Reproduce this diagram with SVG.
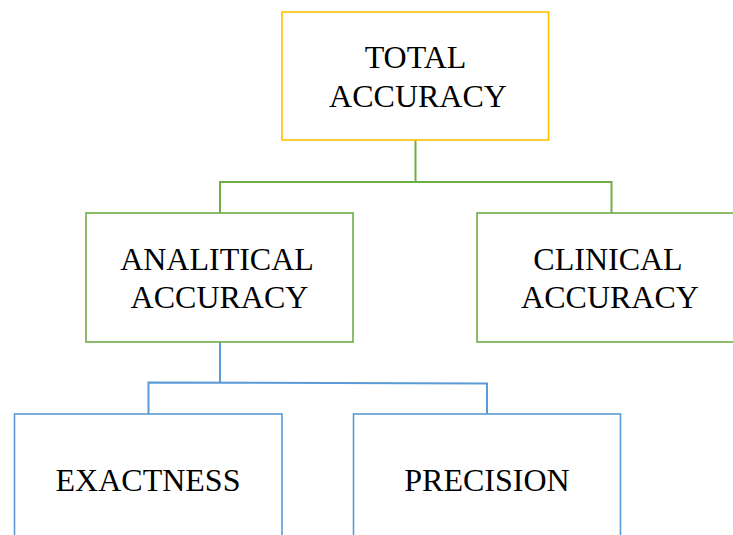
<svg xmlns="http://www.w3.org/2000/svg" width="733" height="535" viewBox="0 0 733 535">
  <style>
    .box { fill: #ffffff; stroke-width: 1.6; }
    .gold { stroke: #FFC000; }
    .green { stroke: #70AD47; }
    .blue { stroke: #5B9BD5; }
    .link { fill: none; stroke-width: 2; }
    text { font-family: "Liberation Serif", "Times New Roman", serif; font-size: 32px; fill: #000000; text-anchor: middle; }
  </style>
  <rect width="733" height="535" fill="#ffffff"/>

  <g id="connectors">
    <path class="link green" d="M415.5 140 V182 M220 213 V182 H611.5 V213"/>
    <path class="link blue" d="M220 342 V382.5 M148.5 414 V382.5 L487 383.5 V414"/>
  </g>

  <g id="total-accuracy">
    <rect class="box gold" x="282" y="12" width="266.5" height="128"/>
    <text x="415.5" y="68">TOTAL</text>
    <text x="418" y="107">ACCURACY</text>
  </g>

  <g id="analitical-accuracy">
    <rect class="box green" x="86" y="213" width="267" height="129"/>
    <text x="217" y="270">ANALITICAL</text>
    <text x="219.5" y="308">ACCURACY</text>
  </g>

  <g id="clinical-accuracy">
    <rect class="box green" x="477" y="213" width="267" height="129"/>
    <text x="608" y="270">CLINICAL</text>
    <text x="610" y="308">ACCURACY</text>
  </g>

  <g id="exactness">
    <rect class="box blue" x="14.5" y="414" width="267.5" height="130"/>
    <text x="148" y="491">EXACTNESS</text>
  </g>

  <g id="precision">
    <rect class="box blue" x="353.5" y="414" width="267" height="130"/>
    <text x="487" y="491">PRECISION</text>
  </g>
</svg>
